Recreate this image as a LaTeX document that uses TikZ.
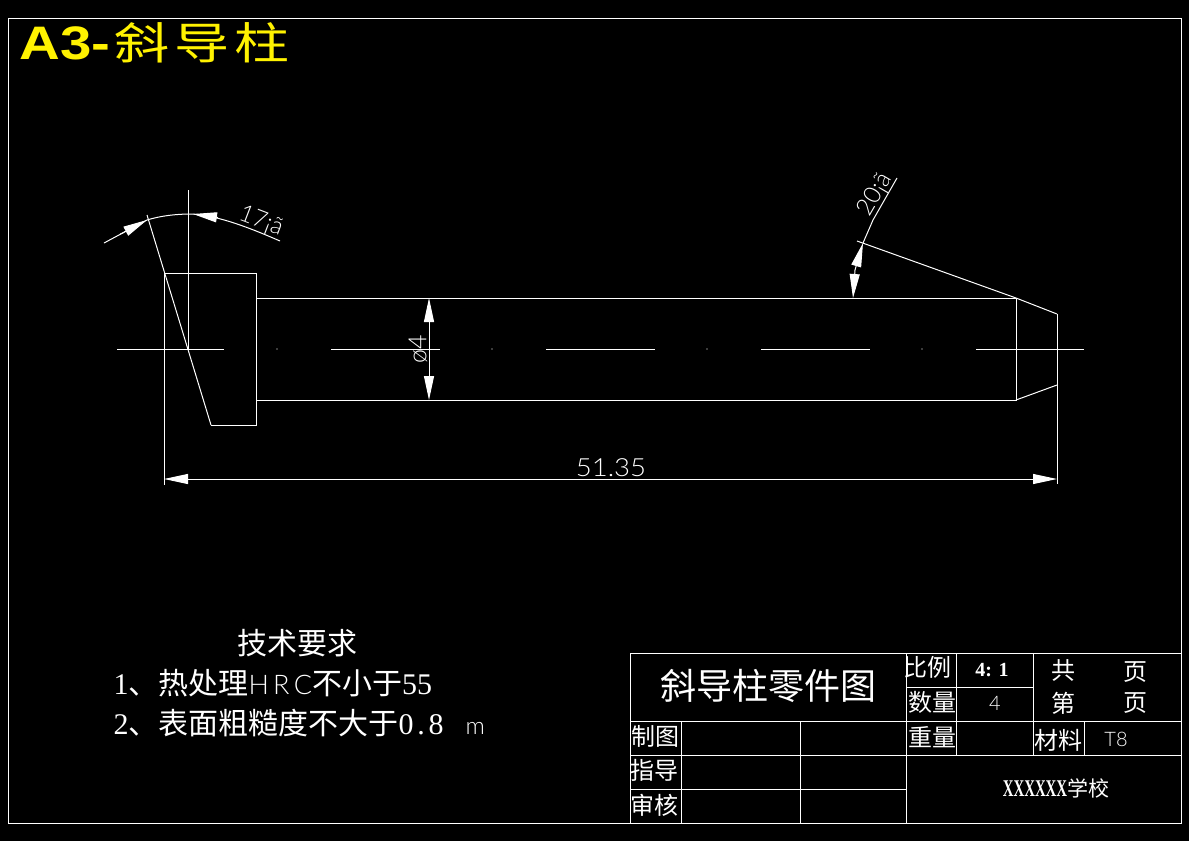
\documentclass[tikz,border=0pt]{standalone}
\usepackage{fontspec}
\usetikzlibrary{calc, arrows.meta}
\newfontfamily\cjk{Noto Sans CJK SC}
\newfontfamily\serifnum{Liberation Serif}
\newfontfamily\arial{Liberation Sans}
\newfontfamily\shx{Lato Light}
\newfontfamily\shxwide{Lato Light}[LetterSpace=16]
\setmainfont{Liberation Serif}

\begin{document}
\begin{tikzpicture} [x=1pt, y=-1pt, line width=1pt,
        cadline/.style={white},
        dimarrow/.style={white, -{Triangle[length=24pt, width=10pt]}},
        cell/.style={white, inner sep=0pt, font=\cjk\fontsize{24}{24}\selectfont},
        req/.style={white, inner sep=0pt, anchor=west, font=\cjk\fontsize{30}{30}\selectfont},
        dimtext/.style={white, inner sep=0pt, font=\shx\fontsize{25}{25}\selectfont}]
        \def\ymid{349}
        \def\ytop{298}
        \def\ybot{400}

        \fill[black] (0,0) rectangle (1189,841);
        \useasboundingbox (0,0) rectangle (1189,841);
        \draw[cadline] (8,18) rectangle (1181,823);

        % part outline
        \coordinate (H1) at (164,273);
        \coordinate (H2) at (256,273);
        \coordinate (H3) at (256,425);
        \coordinate (H4) at (211,425);
        \coordinate (S1) at (1016,\ytop);
        \coordinate (S2) at (1016,\ybot);
        \coordinate (T1) at (1057,314);
        \coordinate (T2) at (1057,385);
        \coordinate (A) at (147,215);
        \coordinate (B) at (857,241);

        \draw[cadline] (H4) -- (H3) -- (H2) -- (H1) -- (164,485);
        \draw[cadline] (A) -- (H4);
        \draw[cadline] (256,\ytop) -- (S1) -- (S2) -- (256,\ybot);
        \draw[cadline] (S2) -- (T2);
        \draw[cadline] (T1) -- (1057,484);
        \draw[cadline] (B) -- (S1) -- (T1);

        % centre line
        \draw[cadline] (188,190) -- (188,\ymid);
        \draw[cadline] (117,\ymid) -- (224,\ymid);
        \draw[cadline] (331,\ymid) -- (440,\ymid);
        \draw[cadline] (546,\ymid) -- (655,\ymid);
        \draw[cadline] (761,\ymid) -- (870,\ymid);
        \draw[cadline] (976,\ymid) -- (1084,\ymid);
        \fill[white] (277,\ymid) circle (0.7);
        \fill[white] (492,\ymid) circle (0.7);
        \fill[white] (707,\ymid) circle (0.7);
        \fill[white] (922,\ymid) circle (0.7);

        % dimensions
        \draw[dimarrow] (429,\ymid) -- (429,\ytop);
        \draw[dimarrow] (429,\ymid) -- (429,\ybot);
        \node[dimtext, rotate=90] (dia) at (418,\ymid) {ø4};
        \draw[dimarrow] (611,479) -- (164,479);
        \draw[dimarrow] (611,479) -- (1057,479);
        \node[dimtext, xscale=1.1] (len) at (611,468) {51.35};

        \draw[cadline] (104,243) -- (147,220) .. controls (160,216) and (175,214) .. (192,214)
            .. controls (220,216) and (250,228) .. (280,241);
        \draw[dimarrow] (120,234.3) -- (147,220);
        \draw[dimarrow] (218,217.5) -- (193,214);
        \node[dimtext, rotate=-21, font=\shx\fontsize{24}{24}\selectfont] (angA) at (261,222) {17¡ã};

        \draw[cadline] (863,243) -- (873,220) -- (897,178);
        \draw[dimarrow] (855,270) -- (863,243);
        \draw[dimarrow] (855,270) -- (853,298);
        \node[dimtext, rotate=60, font=\shx\fontsize{24}{24}\selectfont] (angB) at (875,195) {20¡ã};

        % title
        \node[text=yellow, inner sep=0pt, anchor=base west] (title) at (19,59)
            {\arial\bfseries\fontsize{47}{47}\selectfont\scalebox{1.2}[1]{A3-}\hspace{4pt}\cjk\mdseries\fontsize{44}{44}\selectfont\scalebox{1.25}[1]{斜\hspace{4pt}导\hspace{4pt}柱}};

        % technical notes
        \node[req, anchor=center] (reqhead) at (297.5,643) {技术要求};
        \node[req] (req1) at (113,683) {\serifnum 1\cjk 、热处理{\shxwide\fontsize{27}{27}\selectfont HRC}不小于\serifnum 55};
        \node[req] (req2) at (113,723) {\serifnum 2\cjk 、表面粗糙度不大于\serifnum 0\kern3.75pt.\kern3.75pt8\hspace{22pt}{\shx\fontsize{24}{24}\selectfont m}};

        % title block
        \draw[cadline] (630,653) rectangle (1181,823);
        \draw[cadline] (630,721) -- (1181,721);
        \draw[cadline] (630,755) -- (1181,755);
        \draw[cadline] (630,789) -- (906,789);
        \draw[cadline] (906,687) -- (1033,687);
        \draw[cadline] (681,721) -- (681,823);
        \draw[cadline] (800,721) -- (800,823);
        \draw[cadline] (906,653) -- (906,823);
        \draw[cadline] (956,653) -- (956,755);
        \draw[cadline] (1033,653) -- (1033,755);
        \draw[cadline] (1084,721) -- (1084,755);

        \node[cell, font=\cjk\fontsize{36}{36}\selectfont] (name) at (768,686) {斜导柱零件图};
        \node[cell] (zhitu) at (655,736) {制图};
        \node[cell] (zhidao) at (654,770) {指导};
        \node[cell] (shenhe) at (654,805) {审核};
        \node[cell] (bili) at (927,667) {比例};
        \node[cell] (shuliang) at (932,702) {数量};
        \node[cell] (zhongliang) at (932,737) {重量};
        \node[cell] (cailiao) at (1058,740) {材料};
        \node[cell, font=\serifnum\bfseries\fontsize{20}{20}\selectfont] (ratio) at (992,670) {4: 1};
        \node[dimtext, font=\shx\fontsize{20}{20}\selectfont] (qty) at (995,703) {4};
        \node[dimtext, font=\shx\fontsize{20}{20}\selectfont] (mat) at (1116,739) {T8};
        \node[cell] (gong) at (1063,670) {共};
        \node[cell] (ye1) at (1135,672) {页};
        \node[cell] (di) at (1063,703) {第};
        \node[cell] (ye2) at (1135,703) {页};
        \node[cell] (school) at (1056,788) {\serifnum\bfseries\fontsize{24}{24}\selectfont\scalebox{0.62}[1]{XXXXXX}\cjk\mdseries\fontsize{21}{21}\selectfont 学校};
    \end{tikzpicture}
\end{document}
